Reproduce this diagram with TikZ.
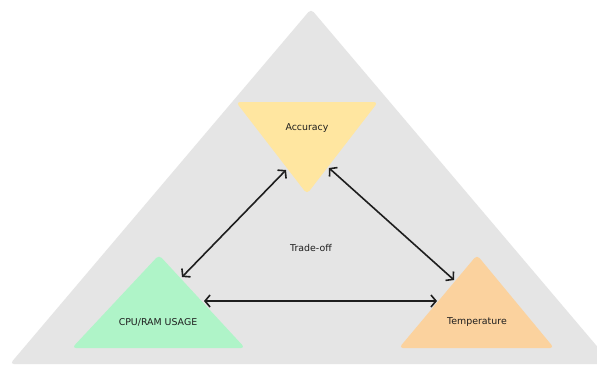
\documentclass[tikz,border=0pt]{standalone}
\usepackage{fontspec}
\setmainfont{DejaVu Sans}
\usetikzlibrary{arrows.meta}
\definecolor{bggrey}{HTML}{E5E5E5}
\definecolor{accy}{HTML}{FFE6A0}
\definecolor{cpug}{HTML}{AFF4C8}
\definecolor{tempo}{HTML}{FBD29E}
\definecolor{ink}{HTML}{1E1E1E}
\tikzset{
  tri/.style={rounded corners=4pt},
  lbl/.style={font=\fontsize{9.4}{11}\selectfont, text=ink, inner sep=0pt},
  conn/.style={draw=ink, line width=1.6pt, {Straight Barb[length=5pt,width=12pt]}-{Straight Barb[length=5pt,width=12pt]}}
}
\begin{document}
\begin{tikzpicture}[x=1pt,y=-1pt]
\useasboundingbox (0,0) rectangle (597,367);
\clip (0,0) rectangle (597,367);
\fill[white] (0,0) rectangle (597,367);
% big grey triangle
\fill[bggrey, tri] (311,9) -- (612,364) -- (10,364) -- cycle;
% accuracy
\fill[accy, tri] (236,102) -- (378,102) -- (307,194) -- cycle;
% cpu
\fill[cpug, tri] (159,255) -- (245,348) -- (72,348) -- cycle;
% temperature
\fill[tempo, tri] (477,255) -- (554,348) -- (399,348) -- cycle;
% labels
\node[lbl] (acc) at (307,128) {Accuracy};
\node[lbl] (cpu) at (158,322) {CPU/RAM USAGE};
\node[lbl] (tmp) at (477,322) {Temperature};
\node[lbl] (trade) at (311,248) {Trade-off};
% connector ends
\coordinate (accL) at (286,170);
\coordinate (accR) at (329,168);
\coordinate (cpuT) at (182,277);
\coordinate (cpuR) at (204,301);
\coordinate (tmpT) at (454,280);
\coordinate (tmpL) at (437,301);
\draw[conn] (accL) -- (cpuT);
\draw[conn] (accR) -- (tmpT);
\draw[conn] (cpuR) -- (tmpL);
\end{tikzpicture}
\end{document}
